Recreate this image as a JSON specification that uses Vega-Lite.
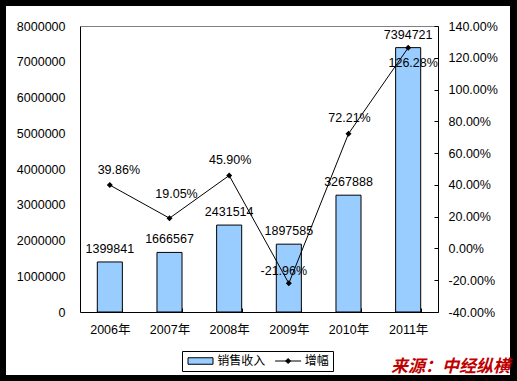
{
  "$schema": "https://vega.github.io/schema/vega-lite/v6.json",
  "width": 504,
  "height": 369,
  "autosize": "none",
  "padding": {"left": 6, "top": 6, "right": 7, "bottom": 6},
  "background": "black",
  "config": {
    "view": {"fill": "white", "stroke": null},
    "font": "Liberation Sans, Noto Sans CJK SC",
    "locale": {"number": {"decimal": ".", "thousands": ",", "grouping": [3], "currency": ["$", ""], "minus": "-"}},
    "axis": {"labelFont": "Liberation Sans, Noto Sans CJK SC", "labelFontSize": 12.5, "labelColor": "black", "domainColor": "black", "tickColor": "black", "title": null, "grid": false}
  },
  "title": {"text": "来源：中经纵横", "orient": "bottom", "anchor": "end", "frame": "group", "offset": -16, "fontSize": 17, "fontWeight": "bold", "fontStyle": "italic", "color": "#c00000", "font": "Noto Sans CJK SC"},
  "data": {"values": [
    {"year": "2006年", "销售收入": 1399841, "增幅": 0.3986},
    {"year": "2007年", "销售收入": 1666567, "增幅": 0.1905},
    {"year": "2008年", "销售收入": 2431514, "增幅": 0.4590},
    {"year": "2009年", "销售收入": 1897585, "增幅": -0.2196},
    {"year": "2010年", "销售收入": 3267888, "增幅": 0.7221},
    {"year": "2011年", "销售收入": 7394721, "增幅": 1.2628}
  ]},
  "encoding": {
    "x": {
      "field": "year", "type": "ordinal", "sort": null,
      "scale": {"domain": ["2006年", "2007年", "2008年", "2009年", "2010年", "2011年"], "range": [74, 432], "paddingInner": 0.58, "paddingOuter": 0.29},
      "axis": {"orient": "bottom", "offset": -63, "labelAngle": 0, "tickBand": "extent", "tickSize": -4, "labelPadding": 15, "title": null}
    }
  },
  "layer": [
    {
      "mark": {"type": "bar", "fill": "#99ccff", "stroke": "black", "strokeWidth": 1},
      "encoding": {
        "y": {
          "field": "销售收入", "type": "quantitative",
          "scale": {"domain": [0, 8000000], "range": [306, 20], "nice": false, "zero": true},
          "axis": {"orient": "left", "offset": -74, "values": [0, 1000000, 2000000, 3000000, 4000000, 5000000, 6000000, 7000000, 8000000], "format": "d", "ticks": false, "tickSize": 0, "labelPadding": 15, "grid": true, "gridColor": "#808080", "gridOpacity": {"condition": {"test": "datum.value === 8000000", "value": 1}, "value": 0}}
        }
      }
    },
    {
      "mark": {"type": "text", "dy": -13, "baseline": "middle", "fontSize": 12.5, "font": "Liberation Sans", "color": "black"},
      "encoding": {
        "y": {"field": "销售收入", "type": "quantitative", "scale": {"domain": [0, 8000000], "range": [306, 20], "nice": false, "zero": true}, "axis": null},
        "text": {"field": "销售收入", "type": "quantitative", "format": "d"}
      }
    },
    {
      "mark": {"type": "line", "color": "black", "strokeWidth": 1},
      "encoding": {
        "y": {
          "field": "增幅", "type": "quantitative",
          "scale": {"domain": [-0.4, 1.4], "range": [306, 20], "nice": false, "zero": false},
          "axis": {"orient": "right", "offset": -72, "values": [-0.4, -0.2, 0, 0.2, 0.4, 0.6, 0.8, 1, 1.2, 1.4], "format": ".2%", "tickSize": -4, "labelPadding": 14, "grid": false}
        }
      }
    },
    {
      "mark": {"type": "point", "shape": "diamond", "filled": true, "color": "black", "size": 36, "opacity": 1},
      "encoding": {"y": {"field": "增幅", "type": "quantitative", "scale": {"domain": [-0.4, 1.4], "range": [306, 20], "nice": false, "zero": false}, "axis": null}}
    },
    {
      "transform": [{"filter": "datum.year === '2008年' || datum.year === '2010年'"}],
      "mark": {"type": "text", "dy": -16, "dx": 1, "baseline": "middle", "fontSize": 12.5, "font": "Liberation Sans", "color": "black"},
      "encoding": {"y": {"field": "增幅", "type": "quantitative", "scale": {"domain": [-0.4, 1.4], "range": [306, 20], "nice": false, "zero": false}, "axis": null}, "text": {"field": "增幅", "type": "quantitative", "format": ".2%"}}
    },
    {
      "transform": [{"filter": "datum.year === '2006年'"}],
      "mark": {"type": "text", "dy": -15, "dx": 9, "baseline": "middle", "fontSize": 12.5, "font": "Liberation Sans", "color": "black"},
      "encoding": {"y": {"field": "增幅", "type": "quantitative", "scale": {"domain": [-0.4, 1.4], "range": [306, 20], "nice": false, "zero": false}, "axis": null}, "text": {"field": "增幅", "type": "quantitative", "format": ".2%"}}
    },
    {
      "transform": [{"filter": "datum.year === '2007年'"}],
      "mark": {"type": "text", "dy": -24, "dx": 7, "baseline": "middle", "fontSize": 12.5, "font": "Liberation Sans", "color": "black"},
      "encoding": {"y": {"field": "增幅", "type": "quantitative", "scale": {"domain": [-0.4, 1.4], "range": [306, 20], "nice": false, "zero": false}, "axis": null}, "text": {"field": "增幅", "type": "quantitative", "format": ".2%"}}
    },
    {
      "transform": [{"filter": "datum.year === '2009年'"}],
      "mark": {"type": "text", "dy": -12, "dx": -5, "baseline": "middle", "fontSize": 12.5, "font": "Liberation Sans", "color": "black"},
      "encoding": {"y": {"field": "增幅", "type": "quantitative", "scale": {"domain": [-0.4, 1.4], "range": [306, 20], "nice": false, "zero": false}, "axis": null}, "text": {"field": "增幅", "type": "quantitative", "format": ".2%"}}
    },
    {
      "transform": [{"filter": "datum.year === '2011年'"}],
      "mark": {"type": "text", "dy": 15, "dx": 5, "baseline": "middle", "fontSize": 12.5, "font": "Liberation Sans", "color": "black"},
      "encoding": {"y": {"field": "增幅", "type": "quantitative", "scale": {"domain": [-0.4, 1.4], "range": [306, 20], "nice": false, "zero": false}, "axis": null}, "text": {"field": "增幅", "type": "quantitative", "format": ".2%"}}
    },
    {
      "transform": [{"fold": ["销售收入", "增幅"], "as": ["series", "v"]}],
      "mark": {"type": "point", "opacity": 0},
      "encoding": {
        "fill": {
          "field": "series", "type": "nominal",
          "scale": {"domain": ["销售收入", "增幅"], "range": ["#99ccff", "black"]},
          "legend": {"orient": "none", "legendX": 176, "legendY": 345, "direction": "horizontal", "title": null, "strokeColor": "black", "fillColor": "white", "padding": 4, "symbolSize": 100, "symbolOffset": 8.5, "labelOffset": 10.7, "columnPadding": 6.6, "labelFontSize": 12, "labelFont": "Noto Sans CJK SC", "labelColor": "black", "symbolStrokeWidth": 1, "symbolOpacity": 1}
        },
        "stroke": {
          "field": "series", "type": "nominal",
          "scale": {"domain": ["销售收入", "增幅"], "range": ["black", "black"]},
          "legend": {"orient": "none", "legendX": 176, "legendY": 345, "direction": "horizontal", "title": null, "strokeColor": "black", "fillColor": "white", "padding": 4, "symbolSize": 100, "symbolOffset": 8.5, "labelOffset": 10.7, "columnPadding": 6.6, "labelFontSize": 12, "labelFont": "Noto Sans CJK SC", "labelColor": "black", "symbolStrokeWidth": 1, "symbolOpacity": 1}
        },
        "shape": {
          "field": "series", "type": "nominal",
          "scale": {"domain": ["销售收入", "增幅"], "range": ["M-2.5,-0.65H2.5V0.65H-2.5Z", "M-2.6,0H2.6M0,-0.5L0.5,0L0,0.5L-0.5,0Z"]},
          "legend": {"orient": "none", "legendX": 176, "legendY": 345, "direction": "horizontal", "title": null, "strokeColor": "black", "fillColor": "white", "padding": 4, "symbolSize": 100, "symbolOffset": 8.5, "labelOffset": 10.7, "columnPadding": 6.6, "labelFontSize": 12, "labelFont": "Noto Sans CJK SC", "labelColor": "black", "symbolStrokeWidth": 1, "symbolOpacity": 1}
        }
      }
    }
  ],
  "resolve": {"scale": {"y": "independent"}}
}
